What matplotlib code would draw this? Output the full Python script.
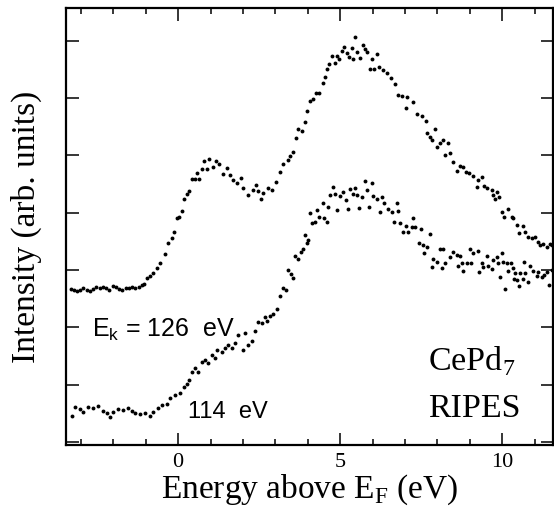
import matplotlib
matplotlib.use("Agg")
import matplotlib.pyplot as plt
from matplotlib.ticker import MultipleLocator

plt.rcParams["mathtext.fontset"] = "custom"
plt.rcParams["mathtext.rm"] = "Liberation Serif"
plt.rcParams["mathtext.sf"] = "Liberation Sans"

# RIPES spectrum, E_k = 126 eV (energy above E_F [eV], intensity [arb. units])
e126 = [-3.32, -3.22, -3.12, -3.02, -2.92, -2.82, -2.72, -2.62, -2.52, -2.42,
        -2.32, -2.22, -2.12, -2.02, -1.92, -1.82, -1.72, -1.62, -1.52, -1.42,
        -1.32, -1.22, -1.12, -1.04,
        -0.96, -0.86, -0.77, -0.65, -0.56, -0.40, -0.31, -0.19, -0.12, -0.03,
        0.03, 0.12, 0.19, 0.28, 0.34, 0.43, 0.52, 0.59, 0.65, 0.74,
        0.80, 0.90, 0.96, 1.08, 1.17, 1.27, 1.39, 1.51, 1.60, 1.70,
        1.82, 1.94, 2.01, 2.16, 2.31, 2.41, 2.47, 2.56, 2.62, 2.78,
        2.90, 3.02, 3.15, 3.24, 3.40, 3.46, 3.55, 3.64, 3.70, 3.83,
        3.92, 3.98, 4.07, 4.17, 4.26, 4.35, 4.48, 4.54, 4.60, 4.66,
        4.75, 4.85, 4.91, 4.97, 5.06, 5.12, 5.22, 5.28, 5.37, 5.40,
        5.46, 5.52, 5.62, 5.71, 5.77, 5.83, 5.93, 5.99, 6.05, 6.14,
        6.20, 6.33, 6.45, 6.57, 6.70, 6.79, 6.91, 7.04, 7.07, 7.25,
        7.38, 7.53, 7.65, 7.69, 7.78, 7.84, 7.93, 7.99, 8.09, 8.18,
        8.24, 8.33, 8.40, 8.49, 8.61, 8.70, 8.80, 8.89, 8.98, 9.10,
        9.23, 9.26, 9.38, 9.44, 9.54, 9.69, 9.72, 9.78, 9.85, 9.91,
        10.00, 10.06, 10.19, 10.31, 10.34, 10.46, 10.52, 10.65, 10.71, 10.80,
        10.93, 11.02, 11.11, 11.17, 11.27, 11.39, 11.48, 11.54]
i126 = [2.67, 2.66, 2.63, 2.65, 2.68, 2.66, 2.64, 2.67, 2.70, 2.68,
        2.71, 2.68, 2.66, 2.72, 2.70, 2.67, 2.65, 2.69, 2.68, 2.70,
        2.69, 2.71, 2.74, 2.76,
        2.86, 2.90, 2.95, 3.04, 3.12, 3.28, 3.47, 3.56, 3.66, 3.91,
        3.93, 4.03, 4.24, 4.33, 4.38, 4.59, 4.59, 4.69, 4.59, 4.76,
        4.90, 4.76, 4.94, 4.80, 4.90, 4.85, 4.68, 4.78, 4.66, 4.57,
        4.52, 4.61, 4.43, 4.31, 4.40, 4.49, 4.38, 4.24, 4.35, 4.43,
        4.40, 4.54, 4.71, 4.85, 4.92, 4.99, 5.06, 5.31, 5.46, 5.43,
        5.58, 5.78, 5.95, 5.99, 6.09, 6.09, 6.27, 6.37, 6.51, 6.60,
        6.74, 6.61, 6.74, 6.68, 6.82, 6.89, 6.79, 6.72, 6.88, 6.68,
        7.07, 6.81, 6.70, 6.93, 6.86, 6.81, 6.51, 6.68, 6.51, 6.77,
        6.54, 6.49, 6.44, 6.35, 6.25, 6.06, 6.04, 5.83, 6.02, 5.93,
        5.72, 5.69, 5.60, 5.39, 5.32, 5.27, 5.46, 5.15, 5.22, 5.27,
        5.01, 5.22, 5.04, 4.89, 4.73, 4.82, 4.80, 4.71, 4.69, 4.64,
        4.45, 4.57, 4.62, 4.47, 4.43, 4.40, 4.31, 4.24, 4.36, 4.28,
        4.01, 3.93, 4.07, 3.93, 3.91, 3.79, 3.65, 3.77, 3.66, 3.58,
        3.56, 3.58, 3.49, 3.44, 3.46, 3.40, 3.46, 3.44]

# RIPES spectrum, 114 eV
e114 = [-3.27, -3.18, -3.02, -2.93, -2.78, -2.62, -2.47, -2.31, -2.19, -2.10,
        -2.01, -1.85, -1.70, -1.54, -1.42, -1.33, -1.17, -1.02, -0.86, -0.77,
        -0.62, -0.49, -0.34, -0.25, -0.09, 0.06, 0.19, 0.28, 0.34, 0.43,
        0.52, 0.62, 0.74, 0.83, 0.93, 1.05, 1.14, 1.20, 1.36, 1.45,
        1.54, 1.67, 1.76, 1.85, 2.01, 2.07, 2.16, 2.28, 2.38, 2.47,
        2.59, 2.69, 2.75, 2.84, 2.93, 3.06, 3.15, 3.24, 3.33, 3.40,
        3.49, 3.55, 3.61, 3.70, 3.80, 3.86, 3.92, 3.98, 4.01, 4.07,
        4.14, 4.23, 4.29, 4.35, 4.48, 4.50, 4.60, 4.63, 4.69, 4.78,
        4.85, 4.91, 5.00, 5.09, 5.19, 5.25, 5.31, 5.40, 5.46, 5.52,
        5.59, 5.68, 5.77, 5.83, 5.90, 5.99, 6.02, 6.14, 6.23, 6.30,
        6.36, 6.48, 6.60, 6.67, 6.76, 6.79, 6.85, 6.94, 7.04, 7.10,
        7.22, 7.25, 7.31, 7.44, 7.50, 7.56, 7.58, 7.69, 7.78, 7.84,
        7.87, 7.99, 8.09, 8.15, 8.18, 8.24, 8.40, 8.49, 8.61, 8.63,
        8.70, 8.77, 8.80, 8.92, 9.01, 9.03, 9.10, 9.26, 9.28, 9.38,
        9.41, 9.54, 9.57, 9.69, 9.72, 9.85, 9.88, 9.94, 10.00, 10.03,
        10.09, 10.15, 10.19, 10.28, 10.34, 10.36, 10.40, 10.46, 10.52, 10.56,
        10.65, 10.68, 10.71, 10.80, 10.86, 10.96, 11.08, 11.11, 11.23, 11.30,
        11.39, 11.45, 11.54]
i114 = [0.45, 0.61, 0.58, 0.52, 0.61, 0.59, 0.63, 0.54, 0.51, 0.44,
        0.52, 0.58, 0.56, 0.59, 0.54, 0.51, 0.49, 0.51, 0.45, 0.52,
        0.59, 0.65, 0.66, 0.77, 0.82, 0.86, 0.96, 1.01, 1.08, 1.22,
        1.29, 1.22, 1.40, 1.43, 1.38, 1.52, 1.47, 1.61, 1.57, 1.64,
        1.69, 1.64, 1.73, 1.87, 1.61, 1.90, 1.69, 1.76, 1.94, 2.09,
        2.08, 2.18, 2.11, 2.20, 2.23, 2.32, 2.55, 2.69, 2.65, 3.00,
        2.93, 2.86, 3.25, 3.19, 3.32, 3.37, 3.61, 3.47, 3.53, 4.00,
        3.82, 3.84, 4.05, 3.93, 4.17, 3.91, 3.84, 4.10, 4.31, 4.45,
        4.33, 4.05, 4.29, 4.36, 4.22, 4.07, 4.42, 4.33, 4.43, 4.31,
        4.08, 4.28, 4.55, 4.40, 4.10, 4.52, 4.29, 4.24, 4.01, 4.28,
        4.17, 4.07, 4.01, 3.84, 4.17, 4.03, 3.82, 3.66, 3.77, 3.66,
        3.75, 3.91, 3.75, 3.47, 3.72, 3.44, 3.30, 3.40, 3.63, 3.05,
        3.19, 3.14, 3.37, 3.04, 3.37, 3.12, 3.23, 3.32, 3.26, 3.07,
        3.25, 3.12, 2.98, 3.12, 3.37, 3.12, 3.30, 3.33, 2.97, 3.12,
        3.05, 3.25, 3.07, 3.02, 3.18, 3.23, 3.12, 2.88, 3.30, 3.14,
        2.67, 3.12, 2.98, 3.12, 3.04, 2.84, 2.95, 2.83, 2.72, 2.95,
        2.84, 3.14, 2.95, 2.79, 3.07, 2.98, 2.90, 2.97, 2.88, 2.91,
        2.97, 2.74, 3.00]

fig = plt.figure(figsize=(5.54, 5.15), dpi=100)
ax = fig.add_axes([66 / 554, 70 / 515, 487 / 554, 437 / 515])

ax.plot(e126, i126, "o", color="black", ms=2.8, mew=0)
ax.plot(e114, i114, "o", color="black", ms=2.8, mew=0)

ax.set_xlim(-3.46, 11.57)
ax.set_ylim(-0.05, 7.57)

ax.xaxis.set_major_locator(MultipleLocator(5))
ax.xaxis.set_minor_locator(MultipleLocator(1))
ax.yaxis.set_major_locator(MultipleLocator(1))
ax.tick_params(axis="x", which="major", direction="in", length=9, width=1.1,
               top=True, pad=6, labelsize=16)
ax.tick_params(axis="x", which="minor", direction="in", length=4.5, width=1.1,
               top=True)
ax.tick_params(axis="y", which="major", direction="in", length=9, width=1.1,
               right=True, labelleft=False)
for lab in ax.get_xticklabels():
    lab.set_fontfamily("Liberation Serif")
for sp in ax.spines.values():
    sp.set_linewidth(1.6)

ax.set_xlabel(r"Energy above E$_\mathrm{F}$ (eV)", fontsize=24,
              fontfamily="Liberation Serif", labelpad=0)
ax.set_ylabel("Intensity (arb. units)", fontsize=24,
              fontfamily="Liberation Serif")
ax.yaxis.set_label_coords(-0.05, 0.5)

ax.text(-2.65, 1.83, r"$\mathsf{E_k}$ = 126  eV", fontsize=18,
        fontfamily="Liberation Sans", va="baseline")
ax.text(0.31, 0.42, "114  eV", fontsize=17,
        fontfamily="Liberation Sans", va="baseline")
ax.text(7.72, 1.26, r"CePd$_7$", fontsize=24.5,
        fontfamily="Liberation Serif", va="baseline")
ax.text(7.72, 0.44, "RIPES", fontsize=24.5,
        fontfamily="Liberation Serif", va="baseline")

fig.savefig("out.png", dpi=100)
